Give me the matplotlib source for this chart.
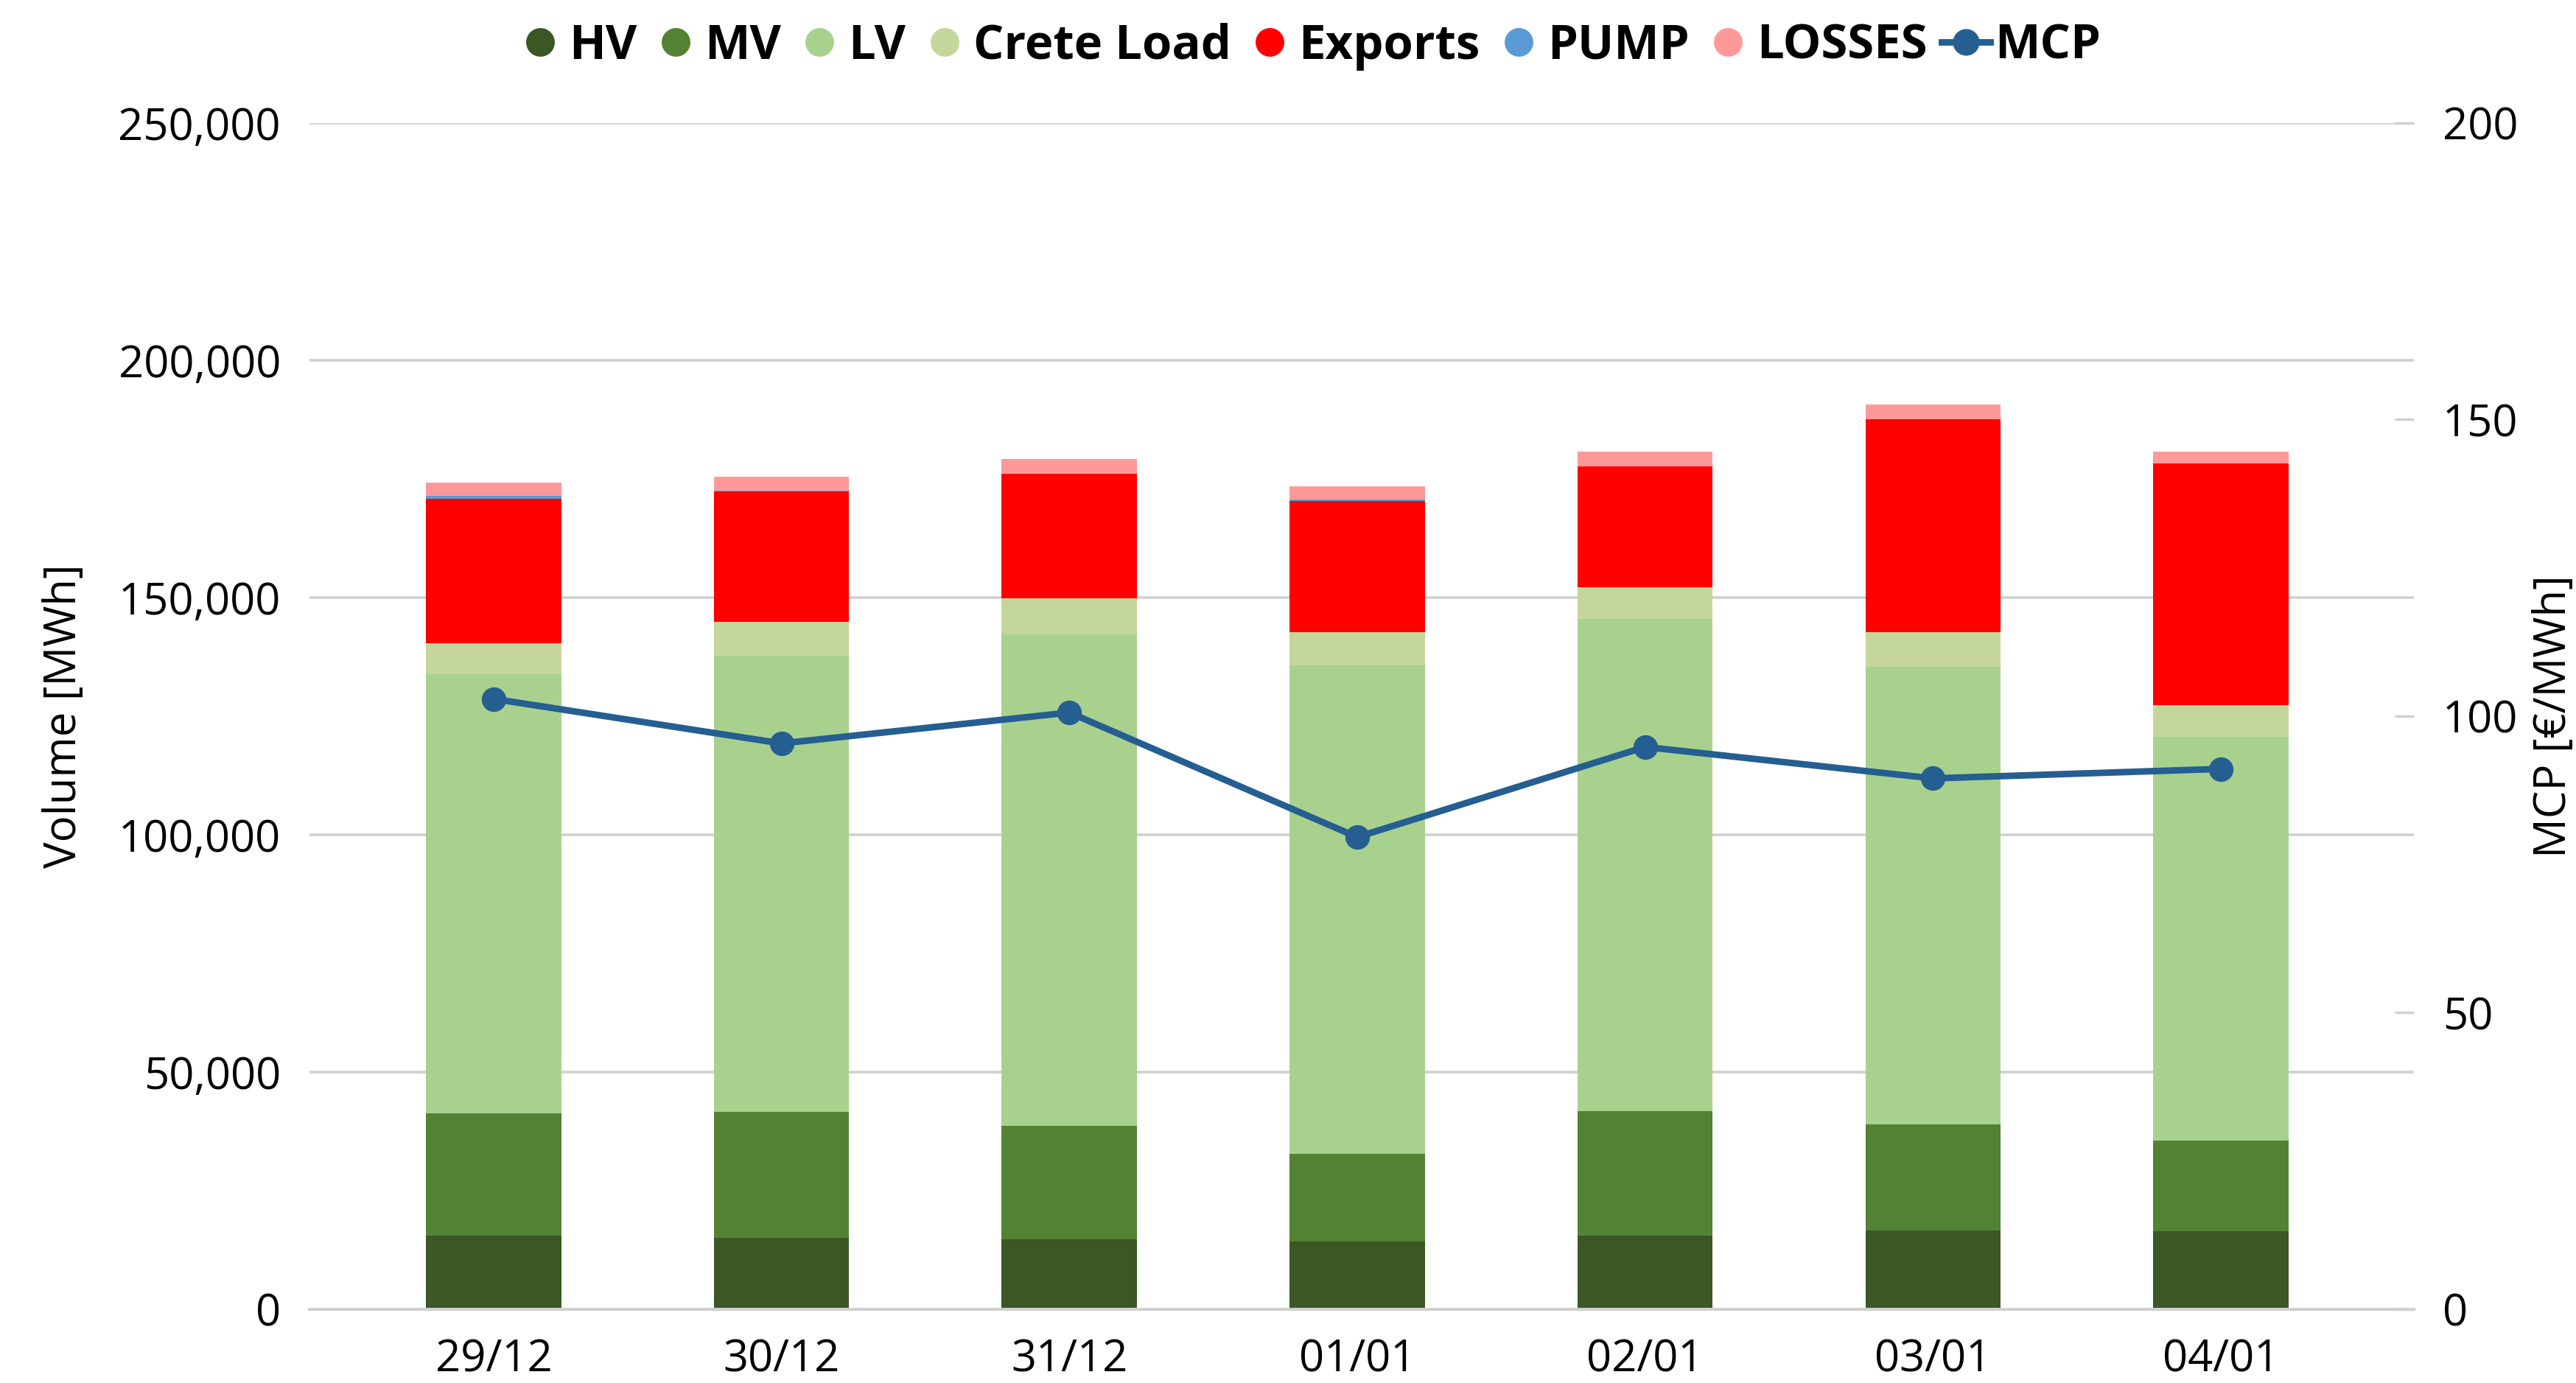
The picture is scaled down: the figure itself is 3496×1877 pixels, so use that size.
import numpy as np
import matplotlib
matplotlib.use("Agg")
from matplotlib import pyplot as plt
from matplotlib.lines import Line2D
from matplotlib.ticker import FuncFormatter

plt.rcParams["font.family"] = ["Open Sans", "DejaVu Sans"]

days = ["29/12", "30/12", "31/12", "01/01", "02/01", "03/01", "04/01"]

# volumes in MWh
hv = [15500, 15100, 14800, 14300, 15500, 16600, 16500]
mv = [25800, 26500, 23900, 18500, 26300, 22400, 19100]
lv = [92600, 96100, 103500, 102900, 103700, 96400, 85100]
crete = [6400, 7100, 7600, 7000, 6600, 7300, 6600]
exports = [30500, 27500, 26200, 27600, 25500, 44800, 50900]
pump = [600, 200, 0, 300, 0, 0, 0]
losses = [2800, 2900, 3100, 2800, 3100, 3100, 2600]

# market clearing price, EUR/MWh
mcp = [102.9, 95.4, 100.6, 79.6, 94.8, 89.5, 91.1]

series = [
    ("HV", hv, "#3b5723"),
    ("MV", mv, "#548235"),
    ("LV", lv, "#a9d18e"),
    ("Crete Load", crete, "#c5d69b"),
    ("Exports", exports, "#ff0000"),
    ("PUMP", pump, "#5b9bd5"),
    ("LOSSES", losses, "#ff9999"),
]
line_col = "#255e91"
grid_col = "#d0d0d0"

fig = plt.figure(figsize=(17.48, 9.385), dpi=200)
ax = fig.add_axes([0.1201, 0.0533, 0.8169, 0.8578])
x = np.arange(len(days))

bottom = np.zeros(len(days))
for name, vals, col in series:
    vals = np.array(vals, dtype=float)
    ax.bar(x, vals, width=0.47, bottom=bottom, color=col, zorder=2)
    bottom += vals

ax.set_ylim(0, 250000)
ax.set_yticks(np.arange(0, 250001, 50000))
ax.yaxis.set_major_formatter(FuncFormatter(lambda v, p: f"{int(v):,}"))
ax.set_xlim(-0.64, 6.67)
ax.set_xticks(x)
ax.set_xticklabels(days)
ax.grid(axis="y", color=grid_col, linewidth=1.3, zorder=0)
for s in ["top", "right", "left"]:
    ax.spines[s].set_visible(False)
ax.spines["bottom"].set_color(grid_col)
ax.spines["bottom"].set_linewidth(1.5)
ax.tick_params(axis="both", length=0, labelsize=21.5, pad=14)
ax.set_ylabel("Volume [MWh]", fontsize=21.5)
ax.yaxis.set_label_coords(-0.106, 0.5)

ax2 = ax.twinx()
ax2.plot(x, mcp, color=line_col, linewidth=3.2, marker="o", markersize=11, zorder=5)
ax2.set_ylim(0, 200)
ax2.set_yticks(np.arange(0, 201, 50))
for s in ["top", "right", "left", "bottom"]:
    ax2.spines[s].set_visible(False)
ax2.tick_params(axis="y", direction="in", length=9.5, width=1.2, color=grid_col,
                labelsize=21.5, pad=14)
ax2.set_ylabel("MCP [€/MWh]", fontsize=21.5)
ax2.yaxis.set_label_coords(1.056, 0.5)

handles = [Line2D([], [], linestyle="none", marker="o", markersize=13,
                  color=col) for _, _, col in series]
handles.append(Line2D([], [], color=line_col, linewidth=3.2, marker="o", markersize=12))
labels = [s[0] for s in series] + ["MCP"]
fig.legend(handles, labels, loc="upper center", bbox_to_anchor=(0.508, 1.015),
           ncol=8, frameon=False, prop={"weight": "bold", "size": 23.5},
           handletextpad=0.1, columnspacing=0.3, handlelength=1.0)

fig.savefig("out.png", dpi=200)
